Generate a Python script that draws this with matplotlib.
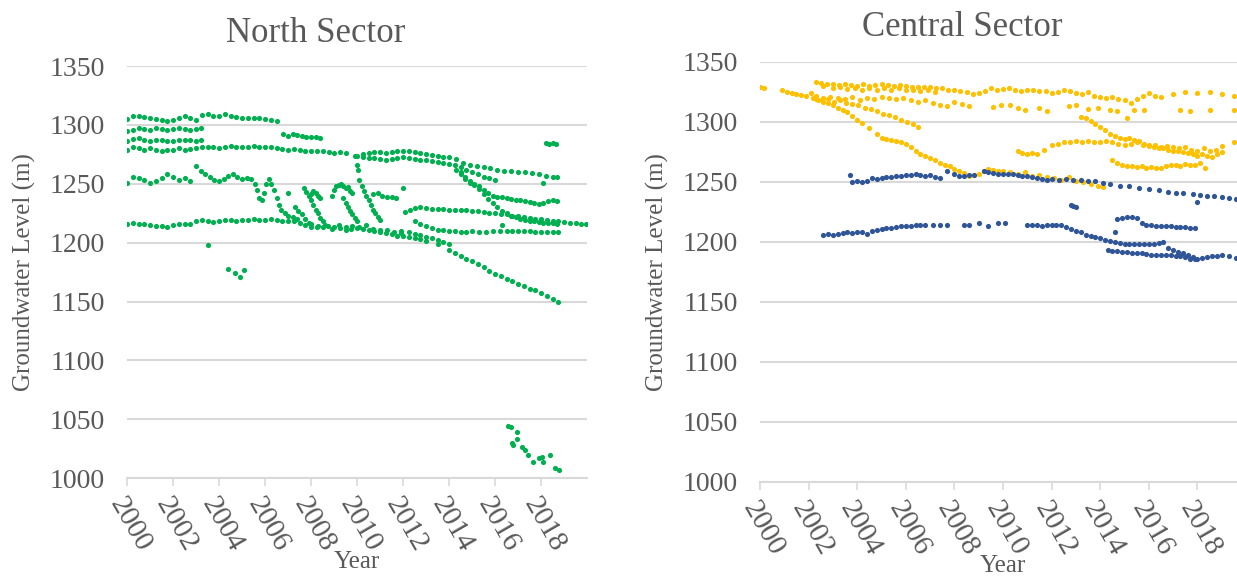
import numpy as np
import matplotlib
matplotlib.use("Agg")
import matplotlib.pyplot as plt

plt.rcParams["font.family"] = ["Liberation Serif", "DejaVu Serif"]

GREEN = "#00B050"
ORANGE = "#FFC000"
BLUE = "#2F5597"
TEXT = "#595959"
GRID = "#D9D9D9"

YEAR_TICKS = [2000, 2002, 2004, 2006, 2008, 2010, 2012, 2014, 2016, 2018]
LEVEL_TICKS = [1000, 1050, 1100, 1150, 1200, 1250, 1300, 1350]

# ---------------- North sector wells (decimal year, level m) ----------------
n1_yr = [2000.0, 2000.25, 2000.5, 2000.75, 2001.0, 2001.25, 2001.5, 2001.75, 2002.0, 2002.25,
         2002.5, 2002.75, 2003.0, 2003.25, 2003.5, 2003.75, 2004.0, 2004.25, 2004.5, 2004.75,
         2005.0, 2005.25, 2005.5, 2005.75, 2006.0, 2006.25, 2006.5]
n1_lv = [1305, 1307.5, 1308, 1307, 1306, 1305, 1304, 1303.5, 1304, 1306,
         1307.5, 1306, 1304.5, 1308.5, 1309, 1308, 1307.5, 1309.5, 1308, 1306.5,
         1306, 1306, 1305.5, 1305.5, 1305, 1304.5, 1303]

n2_yr = [2000.0, 2000.25, 2000.5, 2000.75, 2001.0, 2001.25, 2001.5, 2001.75, 2002.0, 2002.25,
         2002.5, 2002.75, 2003.0, 2003.2]
n2_lv = [1294.5, 1296, 1297, 1296.5, 1296, 1297, 1296.5, 1296, 1296.5, 1297,
         1296.5, 1296, 1296.5, 1297]

n3_yr = n2_yr
n3_lv = [1286, 1288, 1288.5, 1287, 1286.5, 1287, 1287.5, 1286.5, 1286, 1287,
         1287.5, 1287, 1286.5, 1287.5]

n4_yr = [2000.0, 2000.25, 2000.5, 2000.75, 2001.0, 2001.25, 2001.5, 2001.75, 2002.0, 2002.25,
         2002.5, 2002.75, 2003.0, 2003.25, 2003.5, 2003.75, 2004.0, 2004.25, 2004.5, 2004.75,
         2005.0, 2005.25, 2005.5, 2005.75, 2006.0, 2006.25, 2006.5, 2006.75, 2007.0, 2007.25,
         2007.5, 2007.75, 2008.0, 2008.25, 2008.5, 2008.8, 2009.0, 2009.25, 2009.5, 2009.9,
         2010.25, 2010.5, 2010.75, 2011.0, 2011.25, 2011.5, 2011.75, 2012.0, 2012.25, 2012.5,
         2012.75, 2013.0, 2013.25, 2013.5, 2013.75, 2014.0, 2014.3, 2014.6, 2014.9, 2015.2,
         2015.5, 2015.8, 2016.1, 2016.4, 2016.7, 2017.0, 2017.3, 2017.6, 2017.9, 2018.2,
         2018.5, 2018.7]
n4_lv = [1279, 1281, 1280, 1279, 1280, 1278.5, 1278, 1279, 1278.5, 1280,
         1279, 1279.5, 1280, 1281.5, 1281, 1281, 1280.5, 1281, 1282, 1281,
         1281, 1281.5, 1282, 1281, 1281.5, 1281, 1280, 1279.5, 1279, 1279.5,
         1279, 1278, 1277.5, 1278, 1278, 1277, 1276.5, 1277, 1276, 1274,
         1275, 1276, 1277, 1277, 1276.5, 1277, 1277.5, 1278, 1277.5, 1277,
         1276, 1275, 1274.5, 1274, 1273, 1272.5, 1271, 1268, 1266, 1265,
         1264, 1263, 1262, 1261, 1261, 1260, 1260, 1259, 1258, 1257,
         1256, 1255.5]

n5_yr = [2006.8, 2007.0, 2007.2, 2007.4, 2007.6, 2007.8, 2008.0, 2008.2, 2008.4]
n5_lv = [1292, 1291, 1292, 1291.5, 1290.5, 1290, 1289.5, 1289.5, 1289]

n6_yr = [2000.0, 2000.25, 2000.5, 2000.75, 2001.0, 2001.25, 2001.5, 2001.75, 2002.0, 2002.25,
         2002.5, 2002.75, 2003.0, 2003.2, 2003.4, 2003.6, 2003.8, 2004.0, 2004.2, 2004.4,
         2004.6, 2004.8, 2005.0, 2005.2, 2005.4, 2005.55, 2005.65, 2005.75, 2005.85, 2005.95,
         2006.05, 2006.15, 2006.25]
n6_lv = [1251, 1256, 1255, 1253, 1251, 1252, 1255, 1258, 1256, 1253,
         1255, 1252, 1265, 1261, 1258, 1256, 1253, 1252, 1254, 1257,
         1258, 1256, 1254, 1255, 1254, 1250, 1245, 1238, 1236, 1242,
         1250, 1254, 1250]

n7_yr = [2000.0, 2000.25, 2000.5, 2000.75, 2001.0, 2001.25, 2001.5, 2001.75, 2002.0, 2002.25,
         2002.5, 2002.75, 2003.0, 2003.25, 2003.5, 2003.75, 2004.0, 2004.25, 2004.5, 2004.75,
         2005.0, 2005.25, 2005.5, 2005.75, 2006.0, 2006.25, 2006.5, 2006.75, 2007.0, 2007.25,
         2007.5, 2007.75, 2008.0, 2008.25, 2008.5, 2008.75, 2009.0, 2009.25, 2009.5, 2009.75,
         2010.0, 2010.25, 2010.5, 2010.75, 2011.0, 2011.25, 2011.5, 2011.75, 2012.0, 2012.25,
         2012.5, 2012.75, 2013.0, 2013.5, 2014.0, 2014.25, 2014.5, 2014.75, 2015.0, 2015.25,
         2015.5, 2015.75, 2016.0, 2016.25, 2016.5, 2016.75, 2017.0, 2017.25, 2017.5, 2017.75,
         2018.0, 2018.25, 2018.5, 2018.75]
n7_lv = [1216, 1216.5, 1216, 1215.5, 1215, 1214.5, 1214, 1213.5, 1215, 1216,
         1216, 1215.5, 1218, 1219.5, 1218, 1217.5, 1218, 1219, 1219.5, 1218.5,
         1219, 1219.5, 1220, 1219, 1219.5, 1220.5, 1219.5, 1218.5, 1218.5, 1218,
         1217, 1215, 1213.5, 1213, 1213.5, 1214, 1213, 1212.5, 1213, 1212,
         1212.5, 1211.5, 1210.5, 1209.5, 1209, 1208, 1207, 1206, 1205.5, 1205,
         1204, 1203, 1201, 1198.5, 1194, 1191.5, 1189, 1186.5, 1184, 1181.5,
         1179, 1176, 1173.5, 1171.5, 1169, 1167, 1165, 1163, 1161, 1159.5,
         1157, 1155, 1152.5, 1150]

n8_yr = [2010.0, 2010.25, 2010.5, 2010.75, 2011.0, 2011.25, 2011.5, 2011.75, 2012.0, 2012.25,
         2012.5, 2012.75, 2013.0, 2013.25, 2013.5, 2013.75, 2014.0, 2014.25, 2014.5, 2014.75,
         2015.0, 2015.25, 2015.5, 2015.75, 2016.0]
n8_lv = [1274, 1273, 1272, 1272, 1271, 1270, 1271, 1272, 1273, 1272,
         1271, 1270.5, 1270, 1269, 1268.5, 1268, 1267, 1266, 1264, 1262,
         1260, 1258, 1256, 1254.5, 1253]

n9_yr = [2014.3, 2014.5, 2014.7, 2014.9, 2015.1, 2015.3, 2015.5, 2015.7, 2015.9, 2016.1,
         2016.3, 2016.5, 2016.7, 2016.9, 2017.1, 2017.3, 2017.5, 2017.7, 2017.9, 2018.1,
         2018.3, 2018.5, 2018.7]
n9_lv = [1262, 1258, 1254, 1251, 1250, 1248, 1245, 1242, 1240, 1239,
         1238.5, 1237.5, 1237, 1236, 1236, 1235, 1234.5, 1234, 1233, 1233.5,
         1235, 1236, 1235]

n10_yr = [2014.5, 2014.7, 2014.9, 2015.1, 2015.3, 2015.5, 2015.7, 2015.9, 2016.1, 2016.3,
          2016.5, 2016.7, 2016.9, 2017.1, 2017.3, 2017.5, 2017.7, 2017.9, 2018.1, 2018.3,
          2018.5, 2018.7]
n10_lv = [1260, 1256, 1252, 1249, 1245.5, 1241, 1237, 1233.5, 1230, 1227,
          1225, 1223, 1221.5, 1220, 1219, 1218.5, 1218, 1217.5, 1217, 1217,
          1216.5, 1216]

n11_yr = [2012.1, 2012.3, 2012.5, 2012.75, 2013.0, 2013.25, 2013.5, 2013.75, 2014.0, 2014.25,
          2014.5, 2014.75, 2015.0, 2015.25, 2015.5, 2015.75, 2016.0, 2016.25, 2016.5, 2016.75,
          2017.0, 2017.25, 2017.5, 2017.75, 2018.0, 2018.25, 2018.5, 2018.75, 2019.0, 2019.25,
          2019.5, 2019.75, 2019.95]
n11_lv = [1226, 1228, 1229.5, 1230, 1229.5, 1229, 1229, 1228.5, 1228, 1228,
          1227.5, 1227.5, 1227, 1226.5, 1226, 1225.5, 1225, 1224.5, 1224, 1223,
          1222.5, 1222, 1221, 1220.5, 1220, 1219, 1218.5, 1218, 1217.5, 1217,
          1216.5, 1216, 1216]

n12_yr = [2012.5, 2012.75, 2013.0, 2013.25, 2013.5, 2013.75, 2014.0, 2014.25, 2014.5, 2014.75,
          2015.0, 2015.3, 2015.6, 2015.9, 2016.2, 2016.5, 2016.75, 2017.0, 2017.25, 2017.5,
          2017.75, 2018.0, 2018.25, 2018.5, 2018.75]
n12_lv = [1218, 1216, 1214, 1212.5, 1211, 1210.5, 1210, 1209.5, 1209, 1209,
          1209.5, 1209, 1209, 1209.5, 1210, 1210, 1209.5, 1210, 1209.5, 1209.5,
          1209, 1209, 1209, 1209, 1209]

n13_yr = [2011.9, 2012.25, 2012.5, 2012.75, 2013.0, 2013.25, 2013.5, 2013.75, 2014.0]
n13_lv = [1210, 1209, 1207.5, 1206.5, 1205, 1204, 1202.5, 1200.5, 1199]

n14_yr = [2008.0, 2008.3, 2008.6, 2008.9, 2009.2, 2009.5, 2009.8, 2010.1, 2010.4, 2010.7,
          2011.0, 2011.3, 2011.6, 2011.9]
n14_lv = [1216, 1214, 1215, 1212, 1215, 1211, 1214, 1213, 1215, 1212,
          1211, 1210.5, 1209, 1208]

# short falling segments between 2006 and 2011
sa_yr = [2006.4, 2006.5, 2006.6, 2006.7, 2006.85, 2007.0, 2007.2, 2007.4]
sa_lv = [1245, 1238, 1232, 1228, 1225, 1223, 1222, 1220]
sb_yr = [2007.3, 2007.45, 2007.6, 2007.75, 2007.9]
sb_lv = [1230, 1227, 1224, 1220, 1217]
sc_yr = [2007.7, 2007.8, 2007.9, 2008.0, 2008.1, 2008.2, 2008.3, 2008.4]
sc_lv = [1246, 1243, 1240, 1241, 1244, 1242, 1240, 1238]
sd_yr = [2008.0, 2008.1, 2008.2, 2008.3, 2008.4, 2008.5]
sd_lv = [1236, 1232, 1228, 1225, 1221, 1218]
se_yr = [2008.9, 2009.0, 2009.1, 2009.2, 2009.3, 2009.4, 2009.5, 2009.6, 2009.7, 2009.8]
se_lv = [1240, 1245, 1248, 1249, 1250, 1248, 1246, 1247, 1244, 1242]
sf_yr = [2009.4, 2009.5, 2009.6, 2009.7, 2009.8, 2009.9, 2010.0]
sf_lv = [1238, 1234, 1230, 1227, 1224, 1221, 1218]
sg_yr = [2010.0, 2010.05, 2010.1, 2010.2, 2010.3, 2010.4, 2010.5, 2010.6, 2010.7, 2010.8,
         2010.9, 2011.0]
sg_lv = [1266, 1262, 1253, 1248, 1244, 1240, 1236, 1232, 1228, 1225,
         1222, 1219]
sh_yr = [2010.7, 2010.9, 2011.1, 2011.3, 2011.5, 2011.7]
sh_lv = [1241, 1242, 1240, 1239, 1239, 1238]

# isolated readings
nx_yr = [2003.5, 2004.4, 2004.7, 2004.9, 2005.1, 2007.0, 2012.0, 2018.1, 2016.3,
         2018.2, 2018.35, 2018.5, 2018.65]
nx_lv = [1198, 1178, 1174, 1171, 1177, 1242, 1246, 1250.5, 1215,
         1284.5, 1284, 1284.5, 1284]

# deep well 2016-2019
nd_yr = [2016.57, 2016.7, 2016.96, 2016.73, 2016.8, 2016.96, 2017.16, 2017.3, 2017.45, 2017.67,
         2017.9, 2018.03, 2018.1, 2018.4, 2018.6, 2018.8]
nd_lv = [1044, 1043.5, 1039, 1030, 1028.5, 1033, 1026.5, 1024, 1019.5, 1014,
         1017, 1018, 1014, 1019.5, 1008.5, 1007]

north_wells = [(n1_yr, n1_lv), (n2_yr, n2_lv), (n3_yr, n3_lv), (n4_yr, n4_lv), (n5_yr, n5_lv),
               (n6_yr, n6_lv), (n7_yr, n7_lv), (n8_yr, n8_lv), (n9_yr, n9_lv), (n10_yr, n10_lv),
               (n11_yr, n11_lv), (n12_yr, n12_lv), (n13_yr, n13_lv), (n14_yr, n14_lv),
               (sa_yr, sa_lv), (sb_yr, sb_lv), (sc_yr, sc_lv), (sd_yr, sd_lv), (se_yr, se_lv),
               (sf_yr, sf_lv), (sg_yr, sg_lv), (sh_yr, sh_lv), (nx_yr, nx_lv), (nd_yr, nd_lv)]

# ---------------- Central sector wells ----------------
o1_yr = [2002.3, 2002.5, 2002.75, 2003.0, 2003.25, 2003.5, 2003.75, 2004.0, 2004.25, 2004.5,
         2004.75, 2005.0, 2005.25, 2005.5, 2005.75, 2006.0, 2006.25, 2006.5, 2006.75, 2007.0,
         2007.25, 2007.5, 2007.75, 2008.0, 2008.25, 2008.5, 2008.75, 2009.0, 2009.25, 2009.5,
         2009.75, 2010.0, 2010.25, 2010.5, 2010.75, 2011.0, 2011.25, 2011.5, 2011.75, 2012.0,
         2012.25, 2012.5, 2012.75, 2013.0, 2013.25, 2013.5, 2013.75, 2014.0, 2014.25, 2014.5,
         2014.75, 2015.0, 2015.25, 2015.5, 2015.75, 2016.0, 2016.25, 2016.5, 2017.0, 2017.5,
         2018.0, 2018.5, 2019.0, 2019.5]
o1_lv = [1333, 1332.5, 1332, 1331.5, 1331, 1332, 1331, 1330, 1331.5, 1330,
         1331, 1332, 1331, 1330, 1330.5, 1330, 1329.5, 1329, 1329.5, 1329,
         1328, 1328, 1327, 1326.5, 1326, 1325, 1323, 1324, 1326, 1328,
         1327, 1327.5, 1328, 1327, 1326, 1327, 1326.5, 1326, 1325.5, 1324.5,
         1325, 1327, 1326, 1324, 1323, 1325, 1322, 1321, 1320, 1320.5,
         1319, 1318, 1316, 1319, 1322, 1324, 1322, 1321, 1323, 1325,
         1324, 1325, 1323, 1322]

o2_yr = [2002.6, 2003.0, 2003.3, 2003.6, 2003.9, 2004.2, 2004.5, 2004.8, 2005.1, 2005.4,
         2005.7, 2006.0, 2006.3, 2006.6, 2006.9, 2007.2]
o2_lv = [1330, 1328, 1329, 1327.5, 1328.5, 1327, 1328, 1326.5, 1328, 1327,
         1328, 1327, 1326.5, 1325.5, 1326.5, 1325]

o3_yr = [2002.3, 2002.6, 2002.9, 2003.2, 2003.5, 2003.8, 2004.1, 2004.4, 2004.7, 2005.0,
         2005.3, 2005.6, 2005.9, 2006.2, 2006.5, 2006.8, 2007.1, 2007.4, 2007.7, 2008.0,
         2008.3, 2008.6, 2009.6, 2009.9, 2010.3, 2010.6, 2010.9, 2011.5, 2011.8, 2012.7,
         2013.0, 2013.5, 2013.9, 2014.4, 2014.7, 2015.1, 2015.4, 2015.8, 2017.3, 2017.7,
         2018.5, 2019.5]
o3_lv = [1322, 1320, 1321, 1320, 1319, 1321, 1318, 1320, 1319, 1321,
         1320, 1319, 1320, 1318, 1317, 1318, 1316, 1314, 1313, 1317,
         1315, 1313, 1312.5, 1314, 1314, 1312, 1310, 1311.5, 1309, 1313,
         1314, 1311, 1312, 1310, 1309, 1303, 1310, 1310, 1310, 1309,
         1310, 1310]

o4_yr = [2000.0, 2000.15, 2000.9, 2001.1, 2001.3, 2001.5, 2001.7, 2001.9, 2002.1, 2002.3,
         2002.55, 2002.8, 2003.05, 2003.3, 2003.55, 2003.8, 2004.05, 2004.3, 2004.55, 2004.8,
         2005.05, 2005.3, 2005.55, 2005.8, 2006.05, 2006.3, 2006.5]
o4_lv = [1329, 1328, 1326.5, 1325, 1324, 1323, 1322.5, 1322, 1324, 1319,
         1318, 1319, 1317, 1318, 1316, 1315, 1314, 1312, 1310.5, 1309,
         1307, 1305.5, 1304, 1302, 1300, 1298, 1296]

o5_yr = [2002.2, 2002.4, 2002.6, 2002.8, 2003.0, 2003.2, 2003.4, 2003.6, 2003.8, 2004.0,
         2004.2, 2004.5, 2004.8, 2005.0, 2005.2, 2005.4, 2005.6, 2005.8, 2006.0, 2006.2,
         2006.4, 2006.6, 2006.8, 2007.0, 2007.2, 2007.4, 2007.6, 2007.8, 2008.0, 2008.2,
         2008.4, 2008.6, 2008.8, 2009.0, 2009.2, 2009.4, 2009.6, 2009.8, 2010.0, 2010.3,
         2010.6, 2010.9, 2011.2, 2011.5, 2011.8, 2012.1, 2012.4, 2012.7, 2013.0, 2013.3,
         2013.6, 2013.9, 2014.1]
o5_lv = [1320, 1318, 1317, 1316, 1314, 1312, 1310, 1308, 1305, 1302,
         1299, 1295, 1290, 1287, 1286, 1285, 1284, 1283, 1282, 1279,
         1276, 1273.5, 1271.5, 1270, 1268, 1266, 1264.5, 1263, 1261, 1259,
         1257.5, 1255, 1256, 1257, 1259, 1261, 1260, 1259, 1259.5, 1258,
         1257, 1258, 1255, 1256, 1254, 1253.5, 1252, 1254, 1251, 1250,
         1248, 1247, 1246]

o6_yr = [2010.6, 2010.8, 2011.0, 2011.2, 2011.4, 2011.7, 2012.0, 2012.25, 2012.5, 2012.75,
         2013.0, 2013.25, 2013.5, 2013.75, 2014.0, 2014.25, 2014.5, 2014.75, 2015.0, 2015.25,
         2015.5, 2015.75, 2016.0, 2016.25, 2016.5, 2016.75, 2017.0, 2017.25, 2017.5, 2017.75,
         2018.0, 2018.25, 2018.5, 2018.75, 2019.0, 2019.5]
o6_lv = [1276, 1274, 1273, 1274, 1273.5, 1277, 1281, 1282, 1283, 1283.5,
         1284, 1283, 1284, 1283.5, 1283, 1284, 1283, 1282, 1281, 1282,
         1283, 1281, 1280, 1281, 1279, 1280, 1279, 1278, 1279, 1277,
         1276, 1278, 1276, 1277, 1280, 1283]

o7_yr = [2013.2, 2013.4, 2013.6, 2013.8, 2014.0, 2014.2, 2014.4, 2014.6, 2014.8, 2015.0,
         2015.2, 2015.4, 2015.6, 2015.8, 2016.0, 2016.2, 2016.4, 2016.6, 2016.8, 2017.0,
         2017.2, 2017.4, 2017.6, 2017.8, 2018.0, 2018.2, 2018.4, 2018.6, 2018.8, 2019.0]
o7_lv = [1304, 1303, 1301, 1298, 1296, 1293, 1290, 1288, 1287, 1286,
         1286.5, 1285, 1284, 1282, 1280.5, 1279, 1278, 1278, 1277, 1276,
         1276, 1275, 1274.5, 1273, 1272, 1273, 1272, 1271, 1273, 1275]

o8_yr = [2014.5, 2014.7, 2014.9, 2015.1, 2015.3, 2015.5, 2015.7, 2015.9, 2016.1, 2016.3,
         2016.5, 2016.7, 2016.9, 2017.1, 2017.3, 2017.5, 2017.7, 2017.9, 2018.1, 2018.3]
o8_lv = [1268, 1266, 1264.5, 1263.5, 1263, 1262.5, 1263, 1262, 1262.5, 1261.5,
         1262, 1263, 1264, 1264, 1263.5, 1265, 1264, 1264.5, 1266, 1262]

b1_yr = [2003.7, 2003.8, 2004.0, 2004.2, 2004.4, 2004.6, 2004.8, 2005.0, 2005.2, 2005.4,
         2005.6, 2005.8, 2006.0, 2006.2, 2006.4, 2006.6, 2006.8, 2007.0, 2007.2, 2007.4,
         2007.7, 2008.0, 2008.2, 2008.4, 2008.6, 2008.8, 2009.2, 2009.4, 2009.6, 2009.8,
         2010.0, 2010.2, 2010.4, 2010.6, 2010.8, 2011.0, 2011.2, 2011.4, 2011.6, 2011.8,
         2012.0, 2012.3, 2012.6, 2012.9, 2013.2, 2013.5, 2013.8, 2014.1, 2014.4, 2014.8,
         2015.2, 2015.6, 2016.0, 2016.4, 2016.8, 2017.1, 2017.4, 2017.8, 2018.0, 2018.1,
         2018.4, 2018.7, 2019.0, 2019.3, 2019.6]
b1_lv = [1256, 1250, 1251, 1250, 1251, 1253, 1252.5, 1253.5, 1254, 1254.5,
         1255, 1255, 1256, 1256, 1256.5, 1256, 1255, 1255.5, 1254, 1253,
         1259, 1256.5, 1255, 1255, 1255.5, 1256, 1259, 1258, 1257.5, 1257,
         1257, 1256.5, 1256.5, 1256, 1255, 1255, 1254, 1253, 1252.5, 1252,
         1252.5, 1252, 1252.5, 1252, 1251.5, 1251, 1251, 1249, 1248, 1247,
         1246.5, 1245, 1244, 1243.5, 1242, 1241, 1240.5, 1240, 1233, 1239,
         1238.5, 1238, 1237.5, 1237, 1236]

b2_yr = [2002.6, 2002.8, 2003.0, 2003.2, 2003.4, 2003.6, 2003.8, 2004.0, 2004.2, 2004.4,
         2004.6, 2004.8, 2005.0, 2005.2, 2005.4, 2005.6, 2005.8, 2006.0, 2006.2, 2006.4,
         2006.6, 2006.8, 2007.1, 2007.4, 2007.7, 2008.4, 2008.6, 2009.0, 2009.4, 2009.8,
         2010.1, 2011.0, 2011.2, 2011.4, 2011.6, 2011.8, 2012.0, 2012.2, 2012.4, 2012.6,
         2012.8, 2013.0, 2013.2, 2013.4, 2013.6, 2013.8, 2014.0, 2014.2, 2014.4, 2014.6,
         2014.8, 2015.0, 2015.2, 2015.4, 2015.6, 2015.8, 2016.0, 2016.2, 2016.4, 2016.6,
         2016.8, 2017.0, 2017.2, 2017.4, 2017.6, 2017.8, 2018.0, 2018.2, 2018.4, 2018.6,
         2018.8, 2019.0, 2019.3, 2019.6]
b2_lv = [1206, 1206.5, 1205.5, 1207, 1207.5, 1208, 1207.5, 1208, 1208.5, 1207,
         1209, 1210, 1210.5, 1211.5, 1212, 1212.5, 1213, 1213, 1213.5, 1214,
         1214, 1214, 1214, 1214, 1214, 1214, 1214, 1216, 1213.5, 1215.5,
         1216, 1214, 1214, 1214, 1213, 1214, 1214, 1214.5, 1214, 1212.5,
         1211, 1209.5, 1208, 1206, 1205, 1204, 1203.5, 1202, 1201, 1200,
         1199, 1198.5, 1198, 1198, 1198.5, 1198, 1198, 1198.5, 1199, 1200,
         1195, 1193.5, 1192, 1191, 1189, 1187.5, 1186, 1187, 1187.5, 1188.5,
         1188, 1189, 1188, 1187]

b3_yr = [2014.3, 2014.5, 2014.7, 2014.9, 2015.1, 2015.3, 2015.5, 2015.7, 2015.9, 2016.1,
         2016.3, 2016.5, 2016.7, 2016.9, 2017.1, 2017.3, 2017.5, 2017.7, 2017.9]
b3_lv = [1193, 1192.5, 1192.5, 1192, 1191.5, 1191, 1191, 1190.5, 1190, 1189.5,
         1189, 1189, 1189, 1189, 1188.5, 1188, 1187.5, 1186, 1185.5]

b4_yr = [2014.6, 2014.7, 2014.9, 2015.1, 2015.3, 2015.5, 2015.7, 2015.9, 2016.1, 2016.3,
         2016.5, 2016.7, 2016.9, 2017.1, 2017.3, 2017.5, 2017.7, 2017.9]
b4_lv = [1208.5, 1219, 1220, 1220.5, 1221, 1220, 1216, 1214, 1214, 1213.5,
         1213, 1213, 1213, 1212.5, 1212.5, 1212.5, 1212, 1211.5]

b5_yr = [2012.8, 2012.9, 2013.0]
b5_lv = [1231, 1230, 1229]

orange_wells = [(o1_yr, o1_lv), (o2_yr, o2_lv), (o3_yr, o3_lv), (o4_yr, o4_lv),
                (o5_yr, o5_lv), (o6_yr, o6_lv), (o7_yr, o7_lv), (o8_yr, o8_lv)]
blue_wells = [(b1_yr, b1_lv), (b2_yr, b2_lv), (b3_yr, b3_lv), (b4_yr, b4_lv), (b5_yr, b5_lv)]

DOT = 14


def style_axes(ax):
    ax.set_xlim(2000, 2020)
    ax.set_ylim(1000, 1350)
    ax.set_yticks(LEVEL_TICKS)
    ax.set_xticks(YEAR_TICKS)
    ax.set_xticklabels([str(y) for y in YEAR_TICKS], rotation=-60, ha="left", va="top",
                       rotation_mode="anchor")
    ax.grid(axis="y", color=GRID, linewidth=1.5)
    ax.set_axisbelow(True)
    for side in ("left", "top", "right"):
        ax.spines[side].set_visible(False)
    ax.spines["bottom"].set_color(GRID)
    ax.spines["bottom"].set_linewidth(1.5)
    ax.tick_params(axis="y", length=0, pad=16, labelsize=20, labelcolor=TEXT)
    ax.tick_params(axis="x", length=6, width=1.2, color=GRID, pad=5, labelsize=21,
                   labelcolor=TEXT)
    ax.set_ylabel("Groundwater Level (m)", fontsize=18, color=TEXT, labelpad=10)
    ax.set_xlabel("Year", fontsize=18, color=TEXT, labelpad=-4)


fig = plt.figure(figsize=(12.37, 5.76), dpi=100)

ax1 = fig.add_axes([0.1027, 0.170, 0.3719, 0.7153])
for yr, lv in north_wells:
    ax1.scatter(yr, lv, s=DOT, color=GREEN, linewidths=0, zorder=3)
style_axes(ax1)
fig.text(316 / 1237, 1 - 33 / 576, "North Sector", ha="center", va="center",
         fontsize=25, color=TEXT)

ax2 = fig.add_axes([0.6144, 0.1632, 0.3929, 0.7292])
for yr, lv in orange_wells:
    ax2.scatter(yr, lv, s=DOT, color=ORANGE, linewidths=0, zorder=3)
for yr, lv in blue_wells:
    ax2.scatter(yr, lv, s=DOT, color=BLUE, linewidths=0, zorder=3)
style_axes(ax2)
fig.text(962 / 1237, 1 - 27 / 576, "Central Sector", ha="center", va="center",
         fontsize=25, color=TEXT)

fig.savefig("out.png", dpi=100)
